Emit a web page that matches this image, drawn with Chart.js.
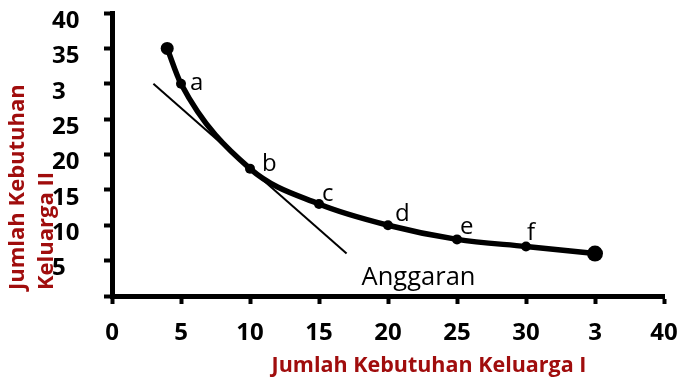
<!DOCTYPE html>
<html>
<head>
<meta charset="utf-8">
<script src="https://cdn.jsdelivr.net/npm/chart.js@4/dist/chart.umd.min.js"></script>
<style>
  html, body { margin: 0; padding: 0; background: #ffffff; }
  #wrap { width: 684px; height: 377px; position: relative; }
</style>
</head>
<body>
<div id="wrap"><canvas id="c" width="684" height="377"></canvas></div>
<script>
// Indifference curve: quantities of good I and good II
const qtyI  = [4, 5, 10, 15, 20, 25, 30, 35];
const qtyII = [35, 30, 18, 13, 10, 8, 7, 6];
const pointNames = ['', 'a', 'b', 'c', 'd', 'e', 'f', ''];

// Budget line (Anggaran) end points
const budgetI  = [3, 17];
const budgetII = [30, 6];
const budgetName = 'Anggaran';

// Tick labels as printed on the axes
const xTickLabels = ['0', '5', '10', '15', '20', '25', '30', '3', '40'];
const yTickLabels = ['', '5', '10', '15', '20', '25', '3', '35', '40'];

const xTitle = 'Jumlah Kebutuhan Keluarga I';
const yTitleLines = ['Jumlah Kebutuhan', 'Keluarga II'];

const TITLE_RED = '#a00d0d';

// offsets (px) of each point letter from its marker: [dx, dy] to text left/baseline
const letterOffsets = [null, [9, 6], [12, 2], [3, -3], [7, -4], [3, -5], [1, -6], null];

const curveData = qtyI.map((x, i) => ({ x, y: qtyII[i] }));
const budgetData = budgetI.map((x, i) => ({ x, y: budgetII[i] }));

const annotations = {
  id: 'annotations',
  beforeDraw(chart) {
    const ctx = chart.ctx;
    ctx.save();
    ctx.fillStyle = '#ffffff';
    ctx.fillRect(0, 0, chart.width, chart.height);
    ctx.fillStyle = TITLE_RED;
    ctx.font = 'bold 22px "Open Sans"';
    ctx.textBaseline = 'alphabetic';
    // y-axis title, rotated, two lines starting from the bottom
    ctx.textAlign = 'left';
    const ys = 290;
    [24, 53].forEach((bx, i) => {
      ctx.save();
      ctx.translate(bx, ys);
      ctx.rotate(-Math.PI / 2);
      ctx.fillText(yTitleLines[i], 0, 0);
      ctx.restore();
    });
    // x-axis title
    ctx.font = 'bold 21.5px "Open Sans"';
    ctx.textAlign = 'center';
    ctx.fillText(xTitle, 429, 372);
    ctx.restore();
  },
  afterDatasetsDraw(chart) {
    const ctx = chart.ctx;
    const xs = chart.scales.x, ys = chart.scales.y;
    ctx.save();
    ctx.fillStyle = '#000000';
    ctx.textAlign = 'left';
    ctx.textBaseline = 'alphabetic';
    ctx.font = '24px "Open Sans"';
    pointNames.forEach((name, i) => {
      if (!name) return;
      const px = xs.getPixelForValue(qtyI[i]);
      const py = ys.getPixelForValue(qtyII[i]);
      const [dx, dy] = letterOffsets[i];
      ctx.fillText(name, px + dx, py + dy);
    });
    // budget line label, near its lower end
    ctx.font = '25.5px "Open Sans"';
    const bx = xs.getPixelForValue(budgetI[1]);
    const by = ys.getPixelForValue(budgetII[1]);
    ctx.fillText(budgetName, bx + 15, by + 31);
    ctx.restore();
  }
};

new Chart(document.getElementById('c'), {
  type: 'scatter',
  data: {
    datasets: [
      {
        data: curveData,
        showLine: true,
        borderColor: '#000000',
        backgroundColor: '#000000',
        borderWidth: 5.5,
        cubicInterpolationMode: 'monotone',
        pointRadius: qtyI.map((_, i) => i === 0 ? 6.5 : (i === qtyI.length - 1 ? 8 : 5)),
        pointBorderWidth: 0,
        pointBackgroundColor: '#000000'
      },
      {
        data: budgetData,
        showLine: true,
        borderColor: '#000000',
        borderWidth: 2,
        pointRadius: 0
      }
    ]
  },
  options: {
    responsive: false,
    animation: false,
    devicePixelRatio: 1,
    layout: { padding: { left: 52, top: 13, right: 20, bottom: 0 } },
    plugins: { legend: { display: false }, tooltip: { enabled: false } },
    scales: {
      x: {
        type: 'linear',
        min: 0, max: 40,
        afterFit(scale) {
          scale.height = 81;
          scale.paddingLeft = 0;
          scale.paddingRight = 0;
        },
        border: { display: true, color: '#000000', width: 5 },
        grid: { drawOnChartArea: false, drawTicks: true, tickLength: 8, tickWidth: 4, tickColor: '#000000' },
        ticks: {
          stepSize: 5,
          padding: 15,
          color: '#000000',
          font: { family: 'Open Sans', weight: 'bold', size: 24 },
          maxRotation: 0,
          autoSkip: false,
          callback: (v) => xTickLabels[Math.round(v / 5)]
        }
      },
      y: {
        type: 'linear',
        min: 0, max: 40,
        afterFit(scale) {
          scale.width = 60;
          scale.paddingTop = 0;
          scale.paddingBottom = 0;
        },
        border: { display: true, color: '#000000', width: 5 },
        grid: { drawOnChartArea: false, drawTicks: true, tickLength: 8, tickWidth: 4, tickColor: '#000000' },
        ticks: {
          stepSize: 5,
          crossAlign: 'far',
          labelOffset: 8,
          color: '#000000',
          font: { family: 'Open Sans', weight: 'bold', size: 24 },
          autoSkip: false,
          callback: (v) => yTickLabels[Math.round(v / 5)]
        }
      }
    }
  },
  plugins: [annotations]
});
</script>
</body>
</html>
